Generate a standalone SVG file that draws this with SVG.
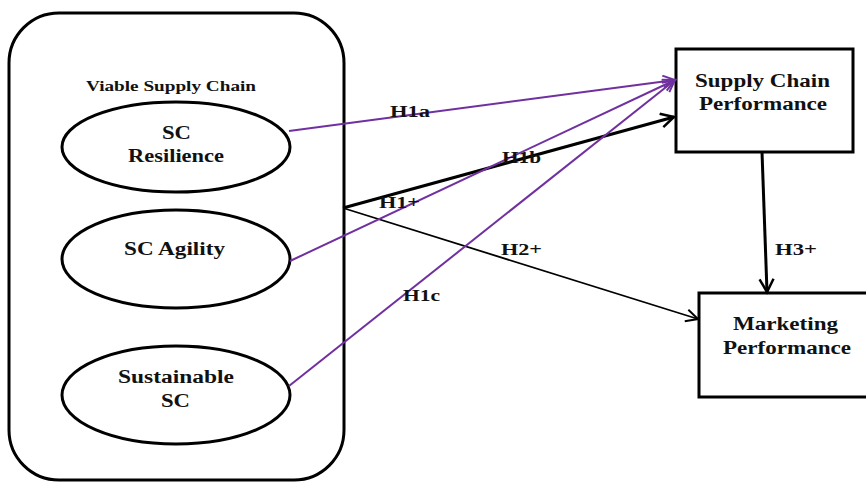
<svg xmlns="http://www.w3.org/2000/svg" width="866" height="482" viewBox="0 0 866 482">
<style>
.shape{fill:#fff;stroke:#000;stroke-width:3}
.t{font-family:"Liberation Serif","Times New Roman",serif;font-weight:bold;fill:#111}
.n{font-size:18px}
.l{font-size:16px}
.v{font-size:15px}
.p{fill:none;stroke:#7030A0;stroke-width:2}
.k{fill:none;stroke:#000}
</style>
<defs>
<marker id="ap" markerUnits="userSpaceOnUse" markerWidth="16" markerHeight="16" refX="13" refY="7" orient="auto">
<path d="M1,1 L13,7 L1,13" fill="none" stroke="#7030A0" stroke-width="2"/>
</marker>
<marker id="ak" markerUnits="userSpaceOnUse" markerWidth="18" markerHeight="18" refX="14" refY="8" orient="auto">
<path d="M1,1 L14,8 L1,15" fill="none" stroke="#000" stroke-width="2.5"/>
</marker>
<marker id="ak2" markerUnits="userSpaceOnUse" markerWidth="16" markerHeight="16" refX="13" refY="7" orient="auto">
<path d="M1,1 L13,7 L1,13" fill="none" stroke="#000" stroke-width="2"/>
</marker>
</defs>
<g id="viable-supply-chain">
<rect class="shape" x="9" y="13" width="335" height="467" rx="50" ry="50"/>
<text class="t v" x="86" y="91" textLength="170" lengthAdjust="spacingAndGlyphs">Viable Supply Chain</text>
</g>
<g id="sc-resilience">
<ellipse class="shape" cx="176" cy="147" rx="114" ry="45"/>
<text class="t n" x="162" y="139" textLength="29" lengthAdjust="spacingAndGlyphs">SC</text>
<text class="t n" x="128" y="162" textLength="96" lengthAdjust="spacingAndGlyphs">Resilience</text>
</g>
<g id="sc-agility">
<ellipse class="shape" cx="176" cy="259" rx="114" ry="49"/>
<text class="t n" x="124" y="255" textLength="101" lengthAdjust="spacingAndGlyphs">SC Agility</text>
</g>
<g id="sustainable-sc">
<ellipse class="shape" cx="176" cy="395" rx="114" ry="49"/>
<text class="t n" x="118" y="383" textLength="116" lengthAdjust="spacingAndGlyphs">Sustainable</text>
<text class="t n" x="161" y="407" textLength="29" lengthAdjust="spacingAndGlyphs">SC</text>
</g>
<g id="supply-chain-performance">
<rect class="shape" x="676" y="49" width="177" height="103"/>
<text class="t n" x="695" y="87" textLength="135" lengthAdjust="spacingAndGlyphs">Supply Chain</text>
<text class="t n" x="699" y="110" textLength="128" lengthAdjust="spacingAndGlyphs">Performance</text>
</g>
<g id="marketing-performance">
<rect class="shape" x="699" y="293" width="175" height="104"/>
<text class="t n" x="733" y="330" textLength="105" lengthAdjust="spacingAndGlyphs">Marketing</text>
<text class="t n" x="723" y="354" textLength="128" lengthAdjust="spacingAndGlyphs">Performance</text>
</g>
<g id="connectors">
<line class="k" x1="343" y1="208" x2="674" y2="117" stroke-width="3" marker-end="url(#ak)"/>
<line class="k" x1="343" y1="208" x2="698" y2="319" stroke-width="1.8" marker-end="url(#ak2)"/>
<line class="k" x1="762" y1="152" x2="767" y2="292" stroke-width="3" marker-end="url(#ak)"/>
<line class="p" x1="289" y1="131" x2="675" y2="80" marker-end="url(#ap)"/>
<line class="p" x1="290" y1="261" x2="675" y2="80" marker-end="url(#ap)"/>
<line class="p" x1="289" y1="386" x2="675" y2="80" marker-end="url(#ap)"/>
<text class="t l" x="390" y="117" textLength="40" lengthAdjust="spacingAndGlyphs">H1a</text>
<text class="t l" x="502" y="163" textLength="39" lengthAdjust="spacingAndGlyphs">H1b</text>
<text class="t l" x="379" y="208" textLength="41" lengthAdjust="spacingAndGlyphs">H1+</text>
<text class="t l" x="501" y="255" textLength="41" lengthAdjust="spacingAndGlyphs">H2+</text>
<text class="t l" x="403" y="301" textLength="37" lengthAdjust="spacingAndGlyphs">H1c</text>
<text class="t l" x="775" y="255" textLength="42" lengthAdjust="spacingAndGlyphs">H3+</text>
</g>
</svg>
